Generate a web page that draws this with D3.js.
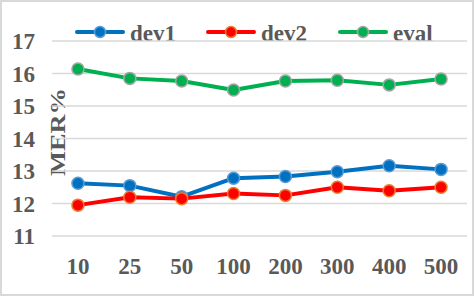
<!DOCTYPE html>
<html lang="en">
<head>
    <meta charset="UTF-8">
    <title>MER chart</title>
    <script src="https://d3js.org/d3.v7.min.js"></script>
    <style>
        body { margin: 0; background: #fff; }
        svg { display: block; }
        text { font-family: "Liberation Serif", "Times New Roman", serif; font-weight: bold; fill: #595959; }
    </style>
</head>
<body>
    <svg></svg>

    <script>
        const categories = ["10", "25", "50", "100", "200", "300", "400", "500"];
        const dev1 = [12.62, 12.55, 12.21, 12.78, 12.83, 12.98, 13.16, 13.05];
        const dev2 = [11.95, 12.19, 12.15, 12.31, 12.25, 12.50, 12.39, 12.50];
        const evalSet = [16.14, 15.85, 15.77, 15.49, 15.77, 15.79, 15.65, 15.83];
        const yTicks = [11, 12, 13, 14, 15, 16, 17];

        const series = [
            { name: "dev1", values: dev1, color: "#0070C0", edge: "#5B9BD5", lx: 77 },
            { name: "dev2", values: dev2, color: "#FF0000", edge: "#ED7D31", lx: 208 },
            { name: "eval", values: evalSet, color: "#00B050", edge: "#A5A5A5", lx: 340 }
        ];

        const width = 475, height = 297;
        const plotLeft = 52, plotRight = 467, plotTop = 41, plotBottom = 236;

        const x_scale = d3.scaleBand().domain(categories).range([plotLeft, plotRight]);
        const y_scale = d3.scaleLinear().domain([11, 17]).range([plotBottom, plotTop]);

        const svg = d3.select("svg")
            .attr("width", width)
            .attr("height", height);

        // outer frame
        svg.append("rect")
            .attr("x", 1).attr("y", 1)
            .attr("width", 472).attr("height", 294)
            .attr("fill", "none")
            .attr("stroke", "#d9d9d9")
            .attr("stroke-width", 2);

        // y tick labels
        svg.selectAll(".ylab")
            .data(yTicks)
            .join("text")
            .attr("class", "ylab")
            .attr("x", 35)
            .attr("y", d => y_scale(d) + 8)
            .attr("text-anchor", "end")
            .attr("font-size", 23)
            .text(d => d);

        // x tick labels
        svg.selectAll(".xlab")
            .data(categories)
            .join("text")
            .attr("class", "xlab")
            .attr("x", d => x_scale(d) + x_scale.bandwidth() / 2)
            .attr("y", 274)
            .attr("text-anchor", "middle")
            .attr("font-size", 23)
            .text(d => d);

        // axis title
        svg.append("text")
            .attr("transform", "translate(65,132) rotate(-90)")
            .attr("text-anchor", "middle")
            .attr("font-size", 20)
            .attr("textLength", 88)
            .attr("lengthAdjust", "spacingAndGlyphs")
            .text("MER%");

        // legend
        const legend = svg.selectAll(".legend")
            .data(series)
            .join("g")
            .attr("class", "legend")
            .attr("transform", d => `translate(${d.lx},32)`);
        legend.append("line")
            .attr("x1", 0).attr("x2", 46)
            .attr("stroke", d => d.color)
            .attr("stroke-width", 4)
            .attr("stroke-linecap", "round");
        legend.append("circle")
            .attr("cx", 23).attr("r", 5.5)
            .attr("fill", d => d.color)
            .attr("stroke", d => d.edge)
            .attr("stroke-width", 1.5);
        legend.append("text")
            .attr("x", 53).attr("y", 9)
            .attr("font-size", 23)
            .text(d => d.name);

        // gridlines (drawn over legend text like the original)
        svg.selectAll(".grid")
            .data(yTicks)
            .join("line")
            .attr("class", "grid")
            .attr("x1", plotLeft).attr("x2", plotRight)
            .attr("y1", d => y_scale(d)).attr("y2", d => y_scale(d))
            .attr("stroke", "#d9d9d9")
            .attr("stroke-width", 1.5);

        const line = d3.line()
            .x((d, i) => x_scale(categories[i]) + x_scale.bandwidth() / 2)
            .y(d => y_scale(d));

        const g = svg.selectAll(".series")
            .data(series)
            .join("g")
            .attr("class", "series");

        g.append("path")
            .attr("d", d => line(d.values))
            .attr("fill", "none")
            .attr("stroke", d => d.color)
            .attr("stroke-width", 4)
            .attr("stroke-linejoin", "round");

        g.each(function (s) {
            d3.select(this).selectAll("circle")
                .data(s.values)
                .join("circle")
                .attr("cx", (d, i) => x_scale(categories[i]) + x_scale.bandwidth() / 2)
                .attr("cy", d => y_scale(d))
                .attr("r", 6)
                .attr("fill", s.color)
                .attr("stroke", s.edge)
                .attr("stroke-width", 1.5);
        });
    </script>
</body>
</html>
